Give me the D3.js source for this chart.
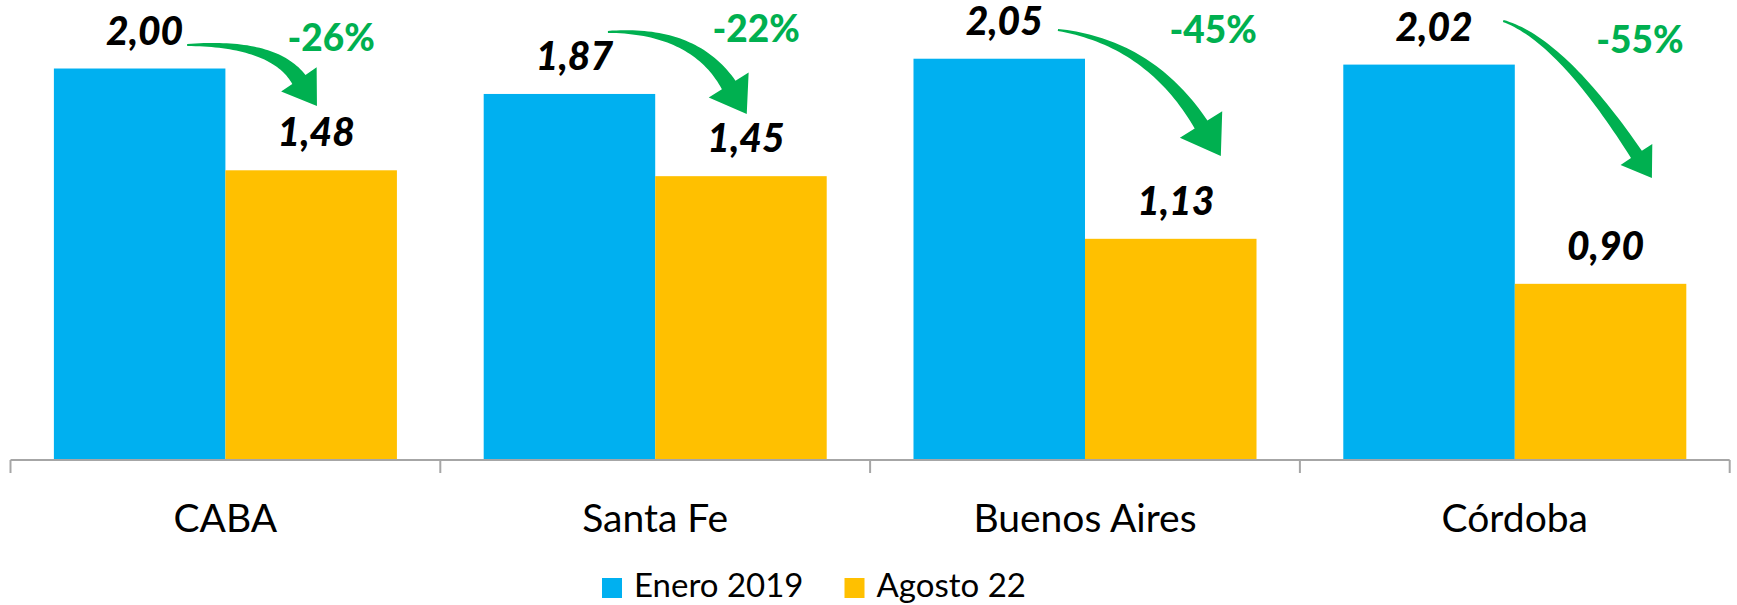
<!DOCTYPE html>
<html>
<head>
<meta charset="utf-8">
<script src="https://cdn.jsdelivr.net/npm/d3@7"></script>
<style>
  html, body { margin: 0; padding: 0; background: #ffffff; }
  svg { display: block; }
</style>
</head>
<body>
<svg id="chart" width="1737" height="605"></svg>
<script>
// ---- data ----
const categories = ["CABA", "Santa Fe", "Buenos Aires", "Córdoba"];
const seriesNames = ["Enero 2019", "Agosto 22"];
const enero2019 = [2.00, 1.87, 2.05, 2.02];
const agosto22  = [1.48, 1.45, 1.13, 0.90];

// ---- annotation placement (band fraction / y-value space) ----
const pctPos   = [[0.746, 2.089], [0.735, 2.135], [0.798, 2.130], [0.791, 2.079]];
const arrowS   = [[0.411, 2.120], [0.390, 2.187], [0.437, 2.197], [0.473, 2.243]];
const arrowB   = [[0.671, 1.944], [0.671, 1.916], [0.770, 1.714], [0.783, 1.561]];
const arrowT   = [[0.713, 1.809], [0.713, 1.768], [0.816, 1.553], [0.819, 1.441]];
const arrowStartAngle = [-2, -2, 8, 18];
const arrowHeadW = [43, 47, 50, 38];
const arrowShaftW = [16, 16, 15, 13];

// ---- style ----
const colors = ["#00B0F0", "#FFC000"];
const green = "#00B050";
const axisColor = "#A6A6A6";
const fontFam = "Lato, 'Open Sans', sans-serif";

const svg = d3.select("#chart");

const x0 = d3.scaleBand().domain(categories).range([10.5, 1729.7]).paddingInner(0).paddingOuter(0);
const x1 = d3.scaleBand().domain(seriesNames).range([0, x0.bandwidth()]).paddingInner(0).paddingOuter(0.253);
const y = d3.scaleLinear().domain([0, 2.35]).range([460, 0]);

const rows = categories.map((c, i) => ({ cat: c, vals: [enero2019[i], agosto22[i]] }));
const fmt = v => d3.format(".2f")(v).replace(".", ",");

// bars
const g = svg.append("g");
rows.forEach(r => {
  r.vals.forEach((v, j) => {
    g.append("rect")
      .attr("x", x0(r.cat) + x1(seriesNames[j]))
      .attr("y", y(v))
      .attr("width", x1.bandwidth())
      .attr("height", y(0) - y(v))
      .attr("fill", colors[j]);
  });
});

// axis
const axis = d3.axisBottom(x0).tickSize(0).tickFormat("");
const axG = svg.append("g").attr("transform", `translate(0,${y(0)})`).call(axis);
axG.select(".domain").attr("stroke", axisColor).attr("stroke-width", 2).attr("d", `M${x0.range()[0]},0H${x0.range()[1]}`);
const bounds = categories.map(c => x0(c)).concat([x0.range()[1]]);
axG.selectAll("line.bound").data(bounds).enter().append("line")
  .attr("class", "bound")
  .attr("x1", d => d).attr("x2", d => d)
  .attr("y1", 0).attr("y2", 13)
  .attr("stroke", axisColor).attr("stroke-width", 2);

// category labels
svg.append("g").selectAll("text").data(categories).enter().append("text")
  .attr("x", d => x0(d) + x0.bandwidth() / 2)
  .attr("y", 532)
  .attr("text-anchor", "middle")
  .attr("font-family", fontFam)
  .attr("font-size", 39)
  .attr("fill", "#000")
  .text(d => d);

// value labels
rows.forEach(r => {
  r.vals.forEach((v, j) => {
    svg.append("text")
      .attr("x", x0(r.cat) + x1(seriesNames[j]) + x1.bandwidth() / 2 + 5)
      .attr("y", y(v) - 24)
      .attr("text-anchor", "middle")
      .attr("font-family", fontFam)
      .attr("font-weight", 900)
      .attr("font-style", "italic")
      .attr("font-size", 39)
      .attr("fill", "#000")
      .text(fmt(v));
  });
});

// arrows
function toPx(i, p) { return [x0(categories[i]) + p[0] * x0.bandwidth(), y(p[1])]; }
categories.forEach((c, i) => {
  const S = toPx(i, arrowS[i]), B = toPx(i, arrowB[i]), T = toPx(i, arrowT[i]);
  const th = arrowStartAngle[i] * Math.PI / 180;
  const d1 = [Math.cos(th), Math.sin(th)];
  let d2 = [T[0] - B[0], T[1] - B[1]];
  const l2 = Math.hypot(d2[0], d2[1]); d2 = [d2[0] / l2, d2[1] / l2];
  const BS = [B[0] - S[0], B[1] - S[1]];
  const det = d1[0] * d2[1] - d1[1] * d2[0];
  let C;
  if (Math.abs(det) < 1e-6) C = [(S[0] + B[0]) / 2, (S[1] + B[1]) / 2];
  else {
    const a = (BS[0] * d2[1] - BS[1] * d2[0]) / det;
    C = [S[0] + a * d1[0], S[1] + a * d1[1]];
  }
  const n = 40, w0 = 2, w1 = arrowShaftW[i];
  const left = [], right = [];
  for (let k = 0; k <= n; k++) {
    const t = k / n;
    const P = [(1 - t) * (1 - t) * S[0] + 2 * (1 - t) * t * C[0] + t * t * B[0],
               (1 - t) * (1 - t) * S[1] + 2 * (1 - t) * t * C[1] + t * t * B[1]];
    let D = [2 * (1 - t) * (C[0] - S[0]) + 2 * t * (B[0] - C[0]),
             2 * (1 - t) * (C[1] - S[1]) + 2 * t * (B[1] - C[1])];
    const lD = Math.hypot(D[0], D[1]) || 1;
    const nn = [-D[1] / lD, D[0] / lD];
    const w = (w0 + (w1 - w0) * t) / 2;
    left.push([P[0] + nn[0] * w, P[1] + nn[1] * w]);
    right.push([P[0] - nn[0] * w, P[1] - nn[1] * w]);
  }
  const n1 = [-d2[1], d2[0]];
  const hw = arrowHeadW[i] / 2;
  const pts = left.concat([[B[0] + n1[0] * hw, B[1] + n1[1] * hw], T, [B[0] - n1[0] * hw, B[1] - n1[1] * hw]])
                  .concat(right.reverse());
  svg.append("path")
    .attr("d", d3.line()(pts) + "Z")
    .attr("fill", green);
});

// percentage labels
categories.forEach((c, i) => {
  const pct = Math.round((agosto22[i] / enero2019[i] - 1) * 100);
  const p = toPx(i, pctPos[i]);
  svg.append("text")
    .attr("x", p[0]).attr("y", p[1])
    .attr("text-anchor", "middle")
    .attr("font-family", fontFam)
    .attr("font-weight", 900)
    .attr("font-size", 37)
    .attr("fill", green)
    .text(pct + "%");
});

// legend
const leg = svg.append("g");
let lx = 602;
seriesNames.forEach((s, j) => {
  leg.append("rect").attr("x", lx).attr("y", 578).attr("width", 20).attr("height", 20).attr("fill", colors[j]);
  const t = leg.append("text")
    .attr("x", lx + 32).attr("y", 597)
    .attr("font-family", fontFam)
    .attr("font-size", 33)
    .attr("fill", "#000")
    .text(s);
  lx = lx + 32 + t.node().getComputedTextLength() + 41;
});
</script>
</body>
</html>
